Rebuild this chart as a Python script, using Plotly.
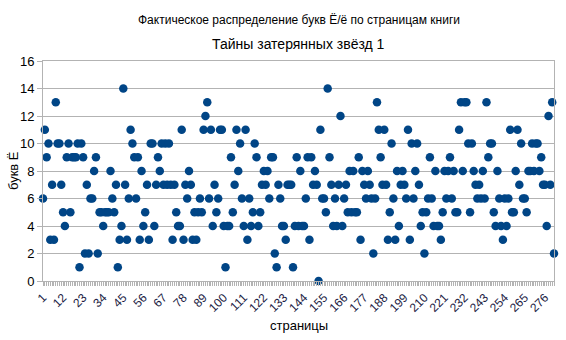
import plotly.graph_objects as go

pages = list(range(1, 282))
counts = [
    6, 11, 9, 10, 3, 7, 3, 13, 10, 10,
    7, 5, 4, 9, 10, 5, 9, 9, 9, 10,
    1, 10, 9, 2, 7, 2, 6, 6, 8, 9,
    2, 5, 5, 4, 5, 5, 5, 8, 6, 5,
    7, 1, 3, 4, 14, 7, 3, 6, 11, 10,
    9, 6, 9, 3, 8, 4, 5, 7, 3, 10,
    10, 4, 7, 9, 8, 10, 7, 10, 7, 10,
    7, 3, 7, 5, 4, 4, 11, 3, 7, 6,
    8, 7, 3, 5, 3, 5, 6, 5, 11, 12,
    13, 6, 11, 4, 7, 5, 6, 11, 11, 4,
    1, 4, 4, 9, 5, 7, 11, 8, 10, 6,
    4, 11, 3, 6, 4, 5, 10, 9, 4, 5,
    7, 8, 7, 8, 6, 9, 9, 2, 1, 7,
    6, 4, 4, 3, 7, 7, 7, 1, 4, 9,
    4, 8, 4, 4, 6, 9, 3, 9, 7, 8,
    7, 0, 11, 6, 6, 5, 14, 9, 7, 4,
    6, 4, 7, 12, 4, 6, 7, 5, 8, 5,
    8, 5, 5, 9, 3, 8, 7, 6, 8, 7,
    6, 2, 6, 13, 11, 9, 7, 11, 7, 3,
    5, 10, 6, 3, 8, 4, 7, 8, 7, 6,
    11, 3, 10, 6, 8, 10, 7, 4, 5, 2,
    5, 6, 9, 6, 4, 8, 4, 4, 3, 5,
    8, 6, 8, 9, 6, 8, 5, 5, 11, 13,
    8, 13, 13, 10, 5, 10, 8, 7, 6, 7,
    6, 8, 6, 13, 9, 10, 10, 5, 4, 8,
    6, 4, 3, 6, 4, 6, 11, 5, 5, 8,
    11, 7, 10, 6, 6, 5, 8, 8, 10, 8,
    10, 10, 8, 9, 7, 7, 4, 12, 7, 13, 2,
]
x_ticks = [1, 12, 23, 34, 45, 56, 67, 78, 89, 100, 111, 122, 133, 144,
           155, 166, 177, 188, 199, 210, 221, 232, 243, 254, 265, 276]
x_tick_labels = [str(v) for v in x_ticks]

title_text = "Фактическое распределение букв Ё/ё по страницам книги"
subtitle_text = "Тайны затерянных звёзд 1"
x_title = "страницы"
y_title = "букв Ё"

FONT = "Liberation Sans, Arial, sans-serif"
GRID = "#b3b3b3"

fig = go.Figure(
    go.Scatter(
        x=pages, y=counts, mode="markers",
        marker=dict(size=8.5, color="#004586", line=dict(width=0)),
        cliponaxis=False, hoverinfo="x+y",
    )
)

fig.update_layout(
    width=566, height=340,
    margin=dict(l=43, r=12, t=61, b=59),
    paper_bgcolor="white", plot_bgcolor="white",
    showlegend=False,
    font=dict(family=FONT, size=12, color="#000000"),
    xaxis=dict(
        range=[1, 281], tickmode="array", tickvals=x_ticks, ticktext=x_tick_labels,
        tickangle=-45, showgrid=False, zeroline=False,
        showline=True, linecolor=GRID, linewidth=1, mirror=True,
        ticks="outside", ticklen=4, tickcolor=GRID, tickwidth=1,
        tickfont=dict(family=FONT, size=12, color="#1c1c44"),
        minor=dict(dtick=1, tick0=1, ticks="outside", ticklen=4, tickcolor=GRID,
                   tickwidth=1, showgrid=False),
    ),
    yaxis=dict(
        range=[0, 16], dtick=2, tick0=0, showgrid=True, gridcolor=GRID, gridwidth=1,
        zeroline=False, showline=True, linecolor=GRID, linewidth=1, mirror=True,
        ticks="outside", ticklen=5, tickcolor=GRID, tickwidth=1,
        tickfont=dict(family=FONT, size=13, color="#000000"),
    ),
    annotations=[
        dict(text=title_text, xref="paper", yref="paper", x=0.5, y=1 + 41 / 220,
             xanchor="center", yanchor="middle", showarrow=False,
             font=dict(family=FONT, size=12, color="#000000")),
        dict(text=subtitle_text, xref="paper", yref="paper", x=0.5, y=1 + 17 / 220,
             xanchor="center", yanchor="middle", showarrow=False,
             font=dict(family=FONT, size=14, color="#000000")),
        dict(text=x_title, xref="paper", yref="paper", x=0.5, y=-44 / 220,
             xanchor="center", yanchor="middle", showarrow=False,
             font=dict(family=FONT, size=13, color="#000000")),
        dict(text=y_title, xref="paper", yref="paper", x=-30 / 511, y=0.5,
             xanchor="center", yanchor="middle", showarrow=False, textangle=-90,
             font=dict(family=FONT, size=13, color="#000000")),
    ],
)

fig.write_html("out.html")
